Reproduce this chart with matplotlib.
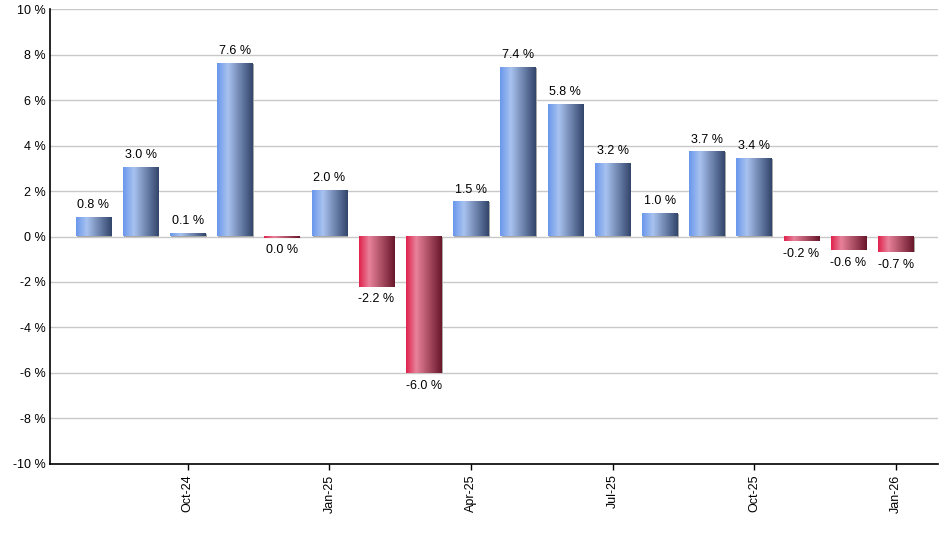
import numpy as np
import matplotlib
matplotlib.use("Agg")
import matplotlib.pyplot as plt
from matplotlib.colors import LinearSegmentedColormap

plt.rcParams['font.family'] = ['Liberation Sans', 'DejaVu Sans']

# monthly returns, Aug-24 .. Jan-26
months = ['Aug-24', 'Sep-24', 'Oct-24', 'Nov-24', 'Dec-24', 'Jan-25', 'Feb-25', 'Mar-25',
          'Apr-25', 'May-25', 'Jun-25', 'Jul-25', 'Aug-25', 'Sep-25', 'Oct-25', 'Nov-25',
          'Dec-25', 'Jan-26']
values = [0.8, 3.0, 0.1, 7.6, -0.05, 2.0, -2.2, -6.0, 1.5, 7.4, 5.8, 3.2, 1.0, 3.7, 3.4,
          -0.2, -0.6, -0.7]
labels = ['0.8 %', '3.0 %', '0.1 %', '7.6 %', '0.0 %', '2.0 %', '-2.2 %', '-6.0 %', '1.5 %',
          '7.4 %', '5.8 %', '3.2 %', '1.0 %', '3.7 %', '3.4 %', '-0.2 %', '-0.6 %', '-0.7 %']
tick_months = ['Oct-24', 'Jan-25', 'Apr-25', 'Jul-25', 'Oct-25', 'Jan-26']
yticks = [-10, -8, -6, -4, -2, 0, 2, 4, 6, 8, 10]

blue = LinearSegmentedColormap.from_list('b', [(0, '#6b98ec'), (0.3, '#a8c2ef'), (1, '#33466c')])
red = LinearSegmentedColormap.from_list('r', [(0, '#e0234d'), (0.28, '#e8829a'), (1, '#6a172b')])
grad = np.linspace(0, 1, 64).reshape(1, -1)

fig = plt.figure(figsize=(9.4, 5.5), dpi=100)
ax = fig.add_axes([0.0532, 0.1564, 0.9448, 0.8272])

x = np.arange(len(months))
w = 0.75
for xi, v, lab in zip(x, values, labels):
    cmap = blue if v >= 0 else red
    # small shadow on the right side
    ax.bar(xi + 0.025, v, width=w, color='#a8a8a8', zorder=2, linewidth=0)
    ax.imshow(grad, cmap=cmap, aspect='auto', extent=(xi - w / 2, xi + w / 2, 0, v),
              zorder=3, interpolation='bilinear')
    if v >= 0:
        ax.text(xi, v + 0.3, lab, ha='center', va='bottom', fontsize=9, zorder=4)
    else:
        ax.text(xi, v - 0.3, lab, ha='center', va='top', fontsize=9, zorder=4)

ax.set_xlim(-0.92, len(months) - 0.1)
ax.set_ylim(-10, 10)
ax.set_yticks(yticks)
ax.set_yticklabels([f'{t} %' for t in yticks], fontsize=9)
ax.set_xticks([months.index(m) for m in tick_months])
ax.set_xticklabels(tick_months, rotation=90, fontsize=9)
ax.tick_params(axis='y', length=0, pad=3)
ax.tick_params(axis='x', length=4, width=1, direction='out')
ax.grid(axis='y', color='#c8c8c8', linewidth=1, zorder=0)
ax.set_axisbelow(True)
for s in ['top', 'right']:
    ax.spines[s].set_visible(False)
ax.spines['left'].set_linewidth(1.2)
ax.spines['bottom'].set_linewidth(1.2)

fig.savefig('out.png', dpi=100)
